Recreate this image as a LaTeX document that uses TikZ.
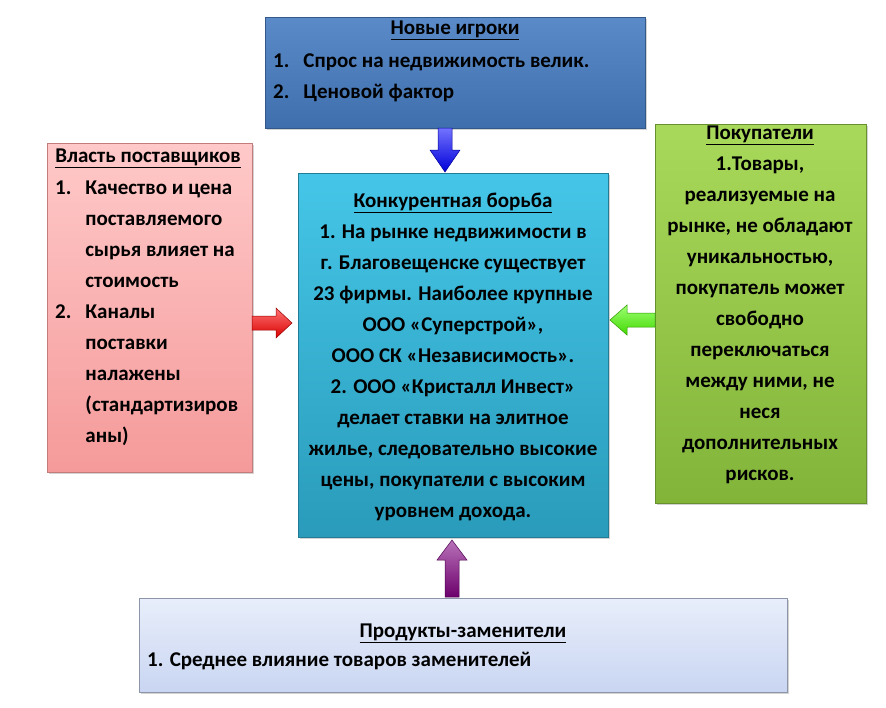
\documentclass[tikz,border=0pt]{standalone}
\usepackage{fontspec}
\setmainfont{Carlito}
\usetikzlibrary{positioning,shadows}
\definecolor{newtop}{HTML}{5A8BC8}
\definecolor{newbot}{HTML}{3F6FAD}
\definecolor{suptop}{HTML}{FFC9C9}
\definecolor{supbot}{HTML}{F59A9A}
\definecolor{comptop}{HTML}{45C6E8}
\definecolor{compbot}{HTML}{2A9BBA}
\definecolor{buytop}{HTML}{A9D95A}
\definecolor{buybot}{HTML}{82B43A}
\definecolor{subtop}{HTML}{E8EEFA}
\definecolor{subbot}{HTML}{C9D5F2}

\begin{document}
\begin{tikzpicture}[x=1pt,y=-1pt,
    every node/.style = {font=\bfseries\fontsize{21}{31}\selectfont, inner sep=0pt},
    box/.style = {draw=#1, line width=0.6pt, drop shadow={opacity=0.35}},
    barrow/.style = {draw=#1!60!black, top color=#1!55!white, bottom color=#1!85!black, line width=0.5pt}
  ]
  \useasboundingbox (0,0) rectangle (886,707);

  % boxes
  \path[box=newbot!80!black, top color=newtop, bottom color=newbot] (265,17) rectangle (645,128);
  \path[box=supbot!80!black, top color=suptop, bottom color=supbot] (47,143) rectangle (252,472);
  \path[box=compbot!80!black, top color=comptop, bottom color=compbot] (298,173) rectangle (608,537);
  \path[box=buybot!80!black, top color=buytop, bottom color=buybot] (655,124) rectangle (866,503);
  \path[box=subbot!70!black, top color=subtop, bottom color=subbot] (139,598) rectangle (787,692);

  % texts
  \node (newt) at (455,30) {\underline{Новые игроки}};
  \node[anchor=north west, align=left] (newl) at (273,46) {%
    \begin{tabular}{@{}l@{\hspace{14pt}}l@{}}
      1. & Спрос на недвижимость велик.\\
      2. & Ценовой фактор
    \end{tabular}};

  \node (supt) at (148,158) {\underline{Власть поставщиков}};
  \node[anchor=north west, align=left] (supl) at (55,173) {%
    \begin{tabular}{@{}l@{\hspace{14pt}}l@{}}
      1. & Качество и цена\\ & поставляемого\\ & сырья влияет на\\ & стоимость\\
      2. & Каналы\\ & поставки\\ & налажены\\ & (стандартизиров\\ & аны)
    \end{tabular}};

  \node[align=center] (comp) at (453,357) {\underline{Конкурентная борьба}\\
    1. На рынке недвижимости в\\ г. Благовещенске существует\\ 23 фирмы. Наиболее крупные\\
    ООО «Суперстрой»,\\ ООО СК «Независимость».\\ 2. ООО «Кристалл Инвест»\\
    делает ставки на элитное\\ жилье, следовательно высокие\\ цены, покупатели с высоким\\ уровнем дохода.};

  \node[align=center] (buy) at (760,305) {\underline{Покупатели}\\ 1.Товары,\\ реализуемые на\\
    рынке, не обладают\\ уникальностью,\\ покупатель может\\ свободно\\ переключаться\\
    между ними, не\\ неся\\ дополнительных\\ рисков.};

  \node (subt) at (463,633) {\underline{Продукты-заменители}};
  \node[anchor=west] (subl) at (147,661) {1. Среднее влияние товаров заменителей};

  % arrows
  \path[barrow=blue] (438,128) -- (452,128) -- (452,150) -- (460,150) -- (445,172)
    -- (430,150) -- (438,150) -- cycle;
  \path[barrow=red] (252,316) -- (276,316) -- (276,308) -- (292,323) -- (276,338)
    -- (276,330) -- (252,330) -- cycle;
  \path[barrow=green!70!yellow] (655,313) -- (627,313) -- (627,305) -- (610,320) -- (627,335)
    -- (627,327) -- (655,327) -- cycle;
  \path[barrow=violet] (445,597) -- (445,560) -- (437,560) -- (452,540) -- (467,560)
    -- (459,560) -- (459,597) -- cycle;
\end{tikzpicture}
\end{document}
